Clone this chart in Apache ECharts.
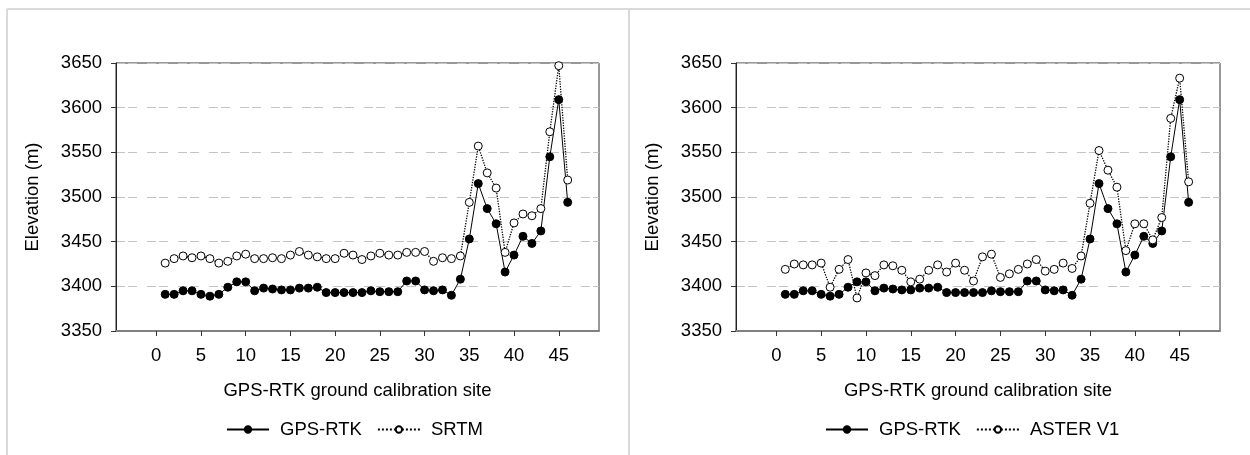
<!DOCTYPE html>
<html>
<head>
<meta charset="utf-8">
<script src="https://cdn.jsdelivr.net/npm/echarts@6/dist/echarts.min.js"></script>
<style>
html,body{margin:0;padding:0;background:#fff;}
#chart{width:1250px;height:455px;}
</style>
</head>
<body>
<div id="chart"></div>
<script>
const sites = [1,2,3,4,5,6,7,8,9,10,11,12,13,14,15,16,17,18,19,20,21,22,23,24,25,26,27,28,29,30,31,32,33,34,35,36,37,38,39,40,41,42,43,44,45,46];
const gpsRtk = [3391,3391,3395,3395,3391,3389,3391,3399,3405,3405,3395,3398,3397,3396,3396,3398,3398,3399,3393,3393,3393,3393,3393,3395,3394,3394,3394,3406,3406,3396,3395,3396,3390,3408,3453,3515,3487,3470,3416,3435,3456,3448,3462,3545,3609,3494];
const srtm = [3426,3431,3434,3432,3434,3431,3426,3428,3434,3436,3431,3431,3432,3431,3435,3439,3435,3433,3431,3431,3437,3435,3430,3434,3437,3435,3435,3438,3438,3439,3428,3432,3431,3434,3494,3557,3527,3510,3438,3471,3481,3479,3487,3573,3647,3519];
const asterV1 = [3419,3425,3424,3424,3426,3399,3419,3430,3387,3415,3412,3424,3423,3418,3405,3408,3418,3424,3416,3426,3418,3406,3433,3436,3410,3414,3419,3425,3430,3417,3419,3426,3420,3434,3493,3552,3530,3511,3440,3470,3470,3452,3477,3588,3633,3517];
const xTicks = [0,5,10,15,20,25,30,35,40,45];
const yMin = 3350, yMax = 3650, yStep = 50;
const xTitle = 'GPS-RTK ground calibration site';
const yTitle = 'Elevation (m)';

const FONT = 'Liberation Sans, Arial, sans-serif';
const FS = 18.5;
const pairs = (vals) => sites.map((s, i) => [s, vals[i]]);

function xAxis(gi) {
  return {
    type: 'value', gridIndex: gi, min: -4.5, max: 49.5,
    name: xTitle, nameLocation: 'middle', nameGap: 50,
    nameTextStyle: {fontSize: FS, color: '#000', fontFamily: FONT},
    axisLine: {show: true, onZero: false, lineStyle: {color: '#808080', width: 2}},
    axisTick: {show: true, inside: false, length: 5, customValues: xTicks, lineStyle: {color: '#333'}},
    axisLabel: {customValues: xTicks, fontSize: FS, color: '#000', fontFamily: FONT, margin: 15,
      formatter: (v) => String(v)},
    splitLine: {show: false}
  };
}
function yAxis(gi) {
  return {
    type: 'value', gridIndex: gi, min: yMin, max: yMax, interval: yStep,
    name: yTitle, nameLocation: 'middle', nameGap: 74,
    nameTextStyle: {fontSize: FS, color: '#000', fontFamily: FONT},
    axisLine: {show: true, onZero: false, lineStyle: {color: '#222', width: 1}},
    axisTick: {show: true, inside: false, length: 5, lineStyle: {color: '#333'}},
    axisLabel: {fontSize: FS, color: '#000', fontFamily: FONT, margin: 14,
      formatter: (v) => String(v)},
    splitLine: {show: true, lineStyle: {color: '#c4c4c4', width: 1, type: [9,3,9,10]}}
  };
}
function lineSeries(name, vals, gi, filled) {
  return {
    name: name, type: 'line', xAxisIndex: gi, yAxisIndex: gi,
    data: pairs(vals), symbol: 'circle', symbolSize: 8,
    showAllSymbol: true, animation: false,
    z: filled ? 3 : 4,
    lineStyle: filled ? {color: '#000', width: 1, type: 'solid'} : {color: '#000', width: 1.3, type: 'dotted'},
    itemStyle: filled ? {color: '#000', borderColor: '#000', borderWidth: 1} : {color: '#fff', borderColor: '#000', borderWidth: 1},
    emphasis: {disabled: true}
  };
}

const chart = echarts.init(document.getElementById('chart'), null, {renderer: 'canvas'});
chart.setOption({
  backgroundColor: '#fff',
  animation: false,
  textStyle: {fontFamily: FONT},
  grid: [
    {left: 116, right: 651, top: 63, bottom: 124, show: true, borderColor: '#333', borderWidth: 1, backgroundColor: 'transparent'},
    {left: 736, right: 30, top: 63, bottom: 124, show: true, borderColor: '#333', borderWidth: 1, backgroundColor: 'transparent'}
  ],
  xAxis: [xAxis(0), xAxis(1)],
  yAxis: [yAxis(0), yAxis(1)],
  legend: [
    {data: ['GPS-RTK', 'SRTM'], left: 221, top: 415, itemWidth: 42, itemHeight: 8, itemGap: 15,
     textStyle: {fontSize: FS, color: '#000', fontFamily: FONT, padding: [0,0,0,6]}, selectedMode: false},
    {data: ['GPS-RTK', 'ASTER V1'], left: 820, top: 415, itemWidth: 42, itemHeight: 8, itemGap: 15,
     textStyle: {fontSize: FS, color: '#000', fontFamily: FONT, padding: [0,0,0,6]}, selectedMode: false}
  ],
  graphic: [
    {type: 'line', shape: {x1: 7, y1: 9, x2: 1250, y2: 9}, style: {stroke: '#d9d9d9', lineWidth: 2}, silent: true},
    {type: 'line', shape: {x1: 7, y1: 9, x2: 7, y2: 455}, style: {stroke: '#d9d9d9', lineWidth: 2}, silent: true},
    {type: 'line', shape: {x1: 629, y1: 9, x2: 629, y2: 455}, style: {stroke: '#d9d9d9', lineWidth: 2}, silent: true}
  ],
  series: [
    lineSeries('GPS-RTK', gpsRtk, 0, true),
    lineSeries('SRTM', srtm, 0, false),
    lineSeries('GPS-RTK', gpsRtk, 1, true),
    lineSeries('ASTER V1', asterV1, 1, false)
  ]
});
</script>
</body>
</html>
